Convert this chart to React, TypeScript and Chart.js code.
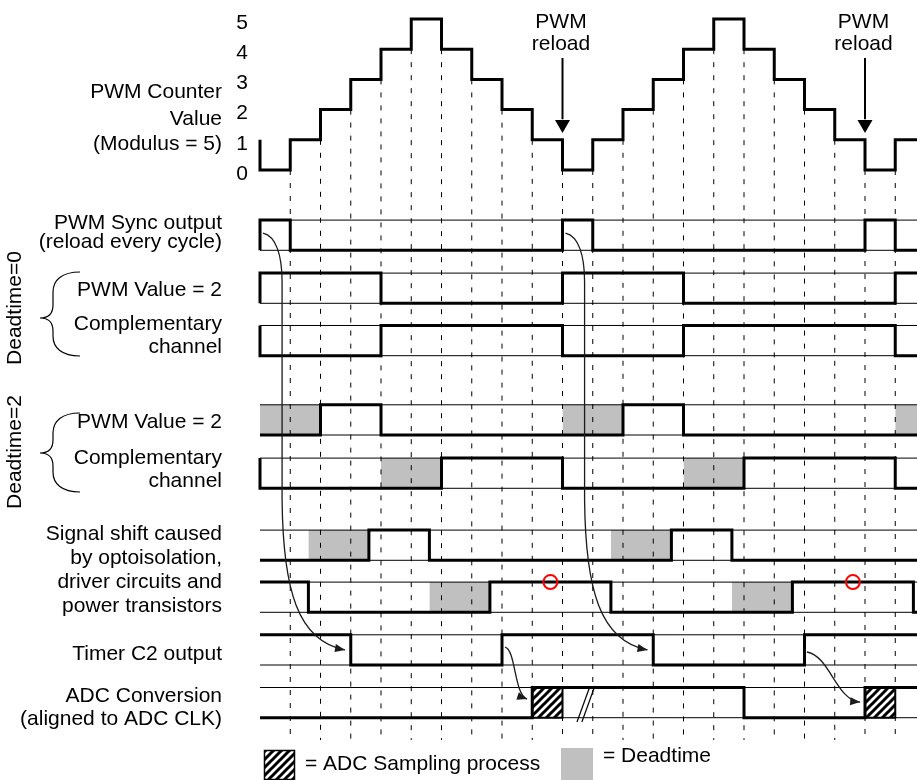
import React, { useEffect, useRef } from "react";
import { Chart, registerables } from "chart.js";

Chart.register(...registerables);

// ---------------- data ----------------
// PWM counter value during each clock tick [t, t+1)
const counterValues = [0, 1, 2, 3, 4, 5, 4, 3, 2, 1, 0, 1, 2, 3, 4, 5, 4, 3, 2, 1, 0, 1];
const counterTickLabels = ["0", "1", "2", "3", "4", "5"];
const clockTicks = [1, 2, 3, 4, 5, 6, 7, 8, 9, 10, 11, 12, 13, 14, 15, 16, 17, 18, 19, 20, 21];

// Signals: segment start times (clock units) and logic level of each segment
const syncTimes = [0, 1, 10, 11, 20, 21];
const syncLevels = [1, 0, 1, 0, 1, 0];
const pwm0Times = [0, 4, 10, 14, 21];
const pwm0Levels = [1, 0, 1, 0, 1];
const comp0Times = [0, 4, 10, 14, 21];
const comp0Levels = [0, 1, 0, 1, 0];
const pwm2Times = [0, 2, 4, 12, 14];
const pwm2Levels = [0, 1, 0, 1, 0];
const comp2Times = [0, 6, 10, 16, 21];
const comp2Levels = [0, 1, 0, 1, 0];
const shiftPwmTimes = [0, 3.6, 5.6, 13.6, 15.6];
const shiftPwmLevels = [0, 1, 0, 1, 0];
const shiftCompTimes = [0, 1.6, 7.6, 11.6, 17.6, 21.6];
const shiftCompLevels = [1, 0, 1, 0, 1, 0];
const timerTimes = [0, 3, 8, 13, 18];
const timerLevels = [1, 0, 1, 0, 1];
const adcTimes = [0, 9, 16, 20];
const adcLevels = [0, 1, 0, 1];

// Deadtime intervals (grey) and ADC sampling intervals (hatched)
const pwm2Dead = [[0, 2], [10, 12], [21, 23]];
const comp2Dead = [[4, 6], [14, 16]];
const shiftPwmDead = [[1.6, 3.6], [11.6, 13.6]];
const shiftCompDead = [[5.6, 7.6], [15.6, 17.6]];
const adcSampling = [[9, 10], [20, 21]];
const missedEdges = [9.6, 19.6];
const reloadTimes = [10, 20];

// ---------------- layout ----------------
const W = 917;
const H = 780;
const X_MIN = -260 / 30.25;
const X_MAX = (W - 260) / 30.25;
const Y_MAX = 170 / 30.2;
const Y_MIN = -(H - 170) / 30.2;
const DASH_BOTTOM = -(740 - 170) / 30.2;
// lower rail of each signal lane (lane height = 1 unit)
const rowLow = [-2.659, -4.414, -6.149, -8.775, -10.54, -12.924, -14.646, -16.391, -18.136];
const GRAY = "#c0c0c0";
const FONT = '21px "Liberation Sans", Arial, Helvetica, sans-serif';

const leftLabels: [string, number][] = [
  ["PWM Counter", 98],
  ["Value", 125],
  ["(Modulus = 5)", 150],
  ["PWM Sync output", 229],
  ["(reload every cycle)", 248],
  ["PWM Value = 2", 296],
  ["Complementary", 330],
  ["channel", 353],
  ["PWM Value = 2", 428],
  ["Complementary", 464],
  ["channel", 487],
  ["Signal shift caused", 540],
  ["by optoisolation,", 564],
  ["driver circuits and", 588],
  ["power transistors", 612],
  ["Timer C2 output", 660],
  ["ADC Conversion", 702],
  ["(aligned to ADC CLK)", 725],
];
const sideLabels: [string, number][] = [
  ["Deadtime=0", 308],
  ["Deadtime=2", 452],
];
const braces: [number, number, number][] = [
  [272, 318, 356],
  [413, 453, 492],
];

type Seg = number[];
const curvedArrows: { start: number[]; segs: Seg[] }[] = [
  { start: [0.1, -2.09], segs: [[0.53, -2.19, 0.73, -2.82, 0.73, -3.71], [0.73, -10.93], [0.76, -13.91, 1.25, -15.6, 2.81, -15.89]] },
  { start: [10.1, -2.09], segs: [[10.53, -2.19, 10.73, -2.82, 10.73, -3.71], [10.73, -10.93], [10.76, -13.91, 11.25, -15.6, 12.81, -15.89]] },
  { start: [8.1, -15.8], segs: [[8.46, -15.89, 8.4, -17.38, 8.83, -17.52]] },
  { start: [18.08, -15.96], segs: [[18.84, -16.09, 19.04, -17.55, 19.84, -17.62]] },
];

type Pt = { x: number; y: number };

function stepPoints(times: number[], levels: number[], base: number, lead: boolean): Pt[] {
  const pts: Pt[] = [];
  if (lead) pts.push({ x: times[0], y: base + 1 - levels[0] });
  for (let i = 0; i < times.length; i++) {
    const t1 = i + 1 < times.length ? times[i + 1] : X_MAX + 0.5;
    pts.push({ x: times[i], y: base + levels[i] });
    pts.push({ x: t1, y: base + levels[i] });
  }
  return pts;
}

function makeHatch(): CanvasPattern | string {
  const c = document.createElement("canvas");
  c.width = 8;
  c.height = 8;
  const g = c.getContext("2d");
  if (!g) return "#888";
  g.fillStyle = "#fff";
  g.fillRect(0, 0, 8, 8);
  g.strokeStyle = "#000";
  g.lineWidth = 3;
  g.beginPath();
  g.moveTo(-2, 10);
  g.lineTo(10, -2);
  g.moveTo(-6, 6);
  g.lineTo(6, -6);
  g.moveTo(2, 14);
  g.lineTo(14, 2);
  g.stroke();
  return g.createPattern(c, "repeat") || "#888";
}

export default function App() {
  const ref = useRef<HTMLCanvasElement>(null);

  useEffect(() => {
    const canvas = ref.current;
    if (!canvas) return;
    const hatch = makeHatch();
    const ds: any[] = [];
    const base = { borderColor: "#000", borderWidth: 1, pointRadius: 0, fill: false, tension: 0 };

    // grey deadtime boxes
    const deadRows: [number[][], number][] = [
      [pwm2Dead, 3],
      [comp2Dead, 4],
      [shiftPwmDead, 5],
      [shiftCompDead, 6],
    ];
    for (const [ivs, r] of deadRows) {
      for (const [a, b] of ivs) {
        ds.push({
          ...base,
          data: [{ x: a, y: rowLow[r] + 1 }, { x: b, y: rowLow[r] + 1 }],
          fill: { value: rowLow[r] },
          backgroundColor: GRAY,
          borderColor: "rgba(0,0,0,0)",
          order: 6,
        });
      }
    }
    // hatched ADC sampling boxes
    for (const [a, b] of adcSampling) {
      ds.push({
        ...base,
        data: [{ x: a, y: rowLow[8] + 1 }, { x: b, y: rowLow[8] + 1 }],
        fill: { value: rowLow[8] },
        backgroundColor: hatch,
        borderColor: "rgba(0,0,0,0)",
        order: 2,
      });
      ds.push({
        ...base,
        borderWidth: 2,
        data: [
          { x: b, y: rowLow[8] + 1 },
          { x: b, y: rowLow[8] },
          { x: a, y: rowLow[8] },
        ],
        order: 1,
      });
    }
    // thin lane rails
    for (const r of rowLow) {
      for (const v of [r, r + 1]) {
        ds.push({ ...base, data: [{ x: 0, y: v }, { x: X_MAX + 0.5, y: v }], order: 4 });
      }
    }
    // dashed clock lines
    for (const t of clockTicks) {
      const lo = Math.min(counterValues[t - 1], counterValues[t]);
      ds.push({
        ...base,
        data: [{ x: t, y: lo }, { x: t, y: DASH_BOTTOM }],
        borderDash: [5, 8],
        order: 3,
      });
    }
    // counter
    const counterPts: Pt[] = [{ x: 0, y: counterValues[0] + 1 }];
    counterValues.forEach((v, t) => {
      counterPts.push({ x: t, y: v });
      counterPts.push({ x: t + 1 < counterValues.length ? t + 1 : X_MAX + 0.5, y: v });
    });
    const thick = { ...base, borderWidth: 3, borderJoinStyle: "miter", borderCapStyle: "butt", order: 0 };
    ds.push({ ...thick, data: counterPts });
    // signals
    const signals: [number[], number[], number, boolean][] = [
      [syncTimes, syncLevels, 0, true],
      [pwm0Times, pwm0Levels, 1, true],
      [comp0Times, comp0Levels, 2, true],
      [pwm2Times, pwm2Levels, 3, false],
      [comp2Times, comp2Levels, 4, true],
      [shiftPwmTimes, shiftPwmLevels, 5, false],
      [shiftCompTimes, shiftCompLevels, 6, false],
      [timerTimes, timerLevels, 7, false],
      [adcTimes, adcLevels, 8, false],
    ];
    for (const [times, levels, r, lead] of signals) {
      ds.push({ ...thick, data: stepPoints(times, levels, rowLow[r], lead) });
    }
    // red circles
    ds.push({
      ...base,
      showLine: false,
      data: missedEdges.map((t) => ({ x: t, y: rowLow[6] + 1 })),
      pointRadius: 7,
      pointBorderWidth: 2,
      pointBorderColor: "#ff0000",
      pointBackgroundColor: "rgba(0,0,0,0)",
      order: -1,
    });

    const annotations = {
      id: "timingAnnotations",
      afterDatasetsDraw(chart: any) {
        const ctx: CanvasRenderingContext2D = chart.ctx;
        const xs = chart.scales.x;
        const ys = chart.scales.y;
        const px = (t: number) => xs.getPixelForValue(t);
        const py = (v: number) => ys.getPixelForValue(v);
        ctx.save();
        ctx.fillStyle = "#000";
        ctx.strokeStyle = "#000";
        ctx.font = FONT;

        // counter value labels
        ctx.textAlign = "center";
        ctx.textBaseline = "middle";
        counterTickLabels.forEach((s, i) => ctx.fillText(s, 242, py(i) + 4));

        // left labels
        ctx.textAlign = "right";
        ctx.textBaseline = "alphabetic";
        for (const [s, yb] of leftLabels) ctx.fillText(s, 222, yb);

        // rotated side labels
        for (const [s, yc] of sideLabels) {
          ctx.save();
          ctx.translate(15, yc);
          ctx.rotate(-Math.PI / 2);
          ctx.textAlign = "center";
          ctx.textBaseline = "middle";
          ctx.fillText(s, 0, 0);
          ctx.restore();
        }

        // braces
        ctx.lineWidth = 1.2;
        for (const [top, tip, bot] of braces) {
          const xe = 80;
          const xm = 53;
          const xt = 40;
          ctx.beginPath();
          ctx.moveTo(xe, top);
          ctx.bezierCurveTo(62, top, xm, top + 8, xm, top + 20);
          ctx.lineTo(xm, tip - 13);
          ctx.quadraticCurveTo(xm, tip, xt, tip);
          ctx.quadraticCurveTo(xm, tip, xm, tip + 13);
          ctx.lineTo(xm, bot - 20);
          ctx.bezierCurveTo(xm, bot - 8, 62, bot, xe, bot);
          ctx.stroke();
        }

        // PWM reload arrows
        ctx.textAlign = "center";
        for (const t of reloadTimes) {
          const x = px(t);
          ctx.fillText("PWM", x - 1.5, 28);
          ctx.fillText("reload", x - 1.5, 50);
          ctx.lineWidth = 2;
          ctx.beginPath();
          ctx.moveTo(x, py(3.709));
          ctx.lineTo(x, py(1.68));
          ctx.stroke();
          ctx.beginPath();
          ctx.moveTo(x - 7.5, py(1.656));
          ctx.lineTo(x + 7.5, py(1.656));
          ctx.lineTo(x, py(1.225));
          ctx.closePath();
          ctx.fill();
        }

        // curved arrows
        ctx.strokeStyle = "#1a1a1a";
        ctx.fillStyle = "#1a1a1a";
        ctx.lineWidth = 1.3;
        for (const a of curvedArrows) {
          ctx.beginPath();
          ctx.moveTo(px(a.start[0]), py(a.start[1]));
          let prev = [px(a.start[0]), py(a.start[1])];
          let end = prev;
          for (const s of a.segs) {
            if (s.length === 2) {
              end = [px(s[0]), py(s[1])];
              ctx.lineTo(end[0], end[1]);
              prev = [...end];
              prev[1] -= 1;
            } else {
              prev = [px(s[2]), py(s[3])];
              end = [px(s[4]), py(s[5])];
              ctx.bezierCurveTo(px(s[0]), py(s[1]), prev[0], prev[1], end[0], end[1]);
            }
          }
          ctx.stroke();
          const ang = Math.atan2(end[1] - prev[1], end[0] - prev[0]);
          const L = 10;
          const hw = 4;
          ctx.beginPath();
          ctx.moveTo(end[0], end[1]);
          ctx.lineTo(end[0] - L * Math.cos(ang) + hw * Math.sin(ang), end[1] - L * Math.sin(ang) - hw * Math.cos(ang));
          ctx.lineTo(end[0] - L * Math.cos(ang) - hw * Math.sin(ang), end[1] - L * Math.sin(ang) + hw * Math.cos(ang));
          ctx.closePath();
          ctx.fill();
        }

        // time break mark on ADC lane
        ctx.strokeStyle = "#000";
        ctx.lineWidth = 1.2;
        for (const off of [0, 0.16]) {
          ctx.beginPath();
          ctx.moveTo(px(10.48 + off), py(rowLow[8] - 0.14));
          ctx.lineTo(px(10.91 + off), py(rowLow[8] + 1.05));
          ctx.stroke();
        }

        // legend
        ctx.fillStyle = hatch as any;
        ctx.fillRect(264, 750, 31, 30);
        ctx.lineWidth = 1.5;
        ctx.strokeStyle = "#000";
        ctx.strokeRect(264.5, 750.5, 30, 29);
        ctx.fillStyle = GRAY;
        ctx.fillRect(561, 748, 32, 32);
        ctx.fillStyle = "#000";
        ctx.textAlign = "left";
        ctx.textBaseline = "alphabetic";
        ctx.fillText("= ADC Sampling process", 305, 770);
        ctx.fillText("= Deadtime", 603, 762);
        ctx.restore();
      },
    };

    const chart = new Chart(canvas, {
      type: "line",
      data: { datasets: ds },
      options: {
        animation: false,
        responsive: true,
        maintainAspectRatio: false,
        events: [],
        layout: { padding: 0, autoPadding: false },
        plugins: { legend: { display: false }, tooltip: { enabled: false } },
        scales: {
          x: { type: "linear", min: X_MIN, max: X_MAX, display: false },
          y: { type: "linear", min: Y_MIN, max: Y_MAX, display: false },
        },
      },
      plugins: [annotations],
    } as any);
    return () => chart.destroy();
  }, []);

  return (
    <div style={{ position: "absolute", left: 0, top: 0, width: W, height: H, background: "#fff" }}>
      <canvas ref={ref} />
    </div>
  );
}
